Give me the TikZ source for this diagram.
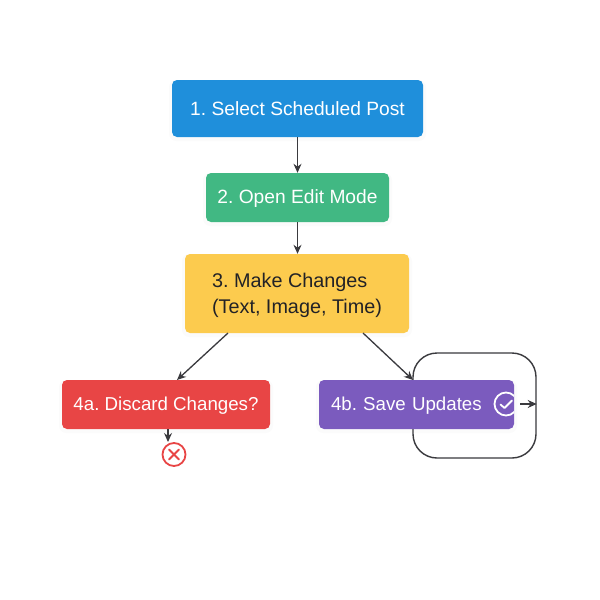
\documentclass[tikz,border=0pt]{standalone}
\usepackage{fontspec}
\setmainfont{Liberation Sans}
\frenchspacing
\usetikzlibrary{arrows.meta}
\definecolor{cblue}{HTML}{1F8FDB}
\definecolor{cgreen}{HTML}{41B883}
\definecolor{cyellow}{HTML}{FCCB4E}
\definecolor{cred}{HTML}{E84545}
\definecolor{cpurple}{HTML}{7B5BBE}
\definecolor{cline}{HTML}{3A3A3E}
\definecolor{cdark}{HTML}{222226}
\tikzset{
  x=1pt,y=-1pt,
  boxnode/.style={rounded corners=5pt,inner sep=0pt,font=\fontsize{19.2}{26}\selectfont,text=white},
  smalltext/.style={font=\fontsize{18.7}{26}\selectfont},
  conn/.style={draw=cline,line width=1.3pt,-{Stealth[length=9pt,width=8pt]}},
  halo/.style={fill=black,opacity=0.015,rounded corners=7pt}
}
\begin{document}
\begin{tikzpicture}
\useasboundingbox (0,0) rectangle (600,600);
\fill[white] (0,0) rectangle (600,600);
% soft shadows
\fill[halo] (169,80) rectangle (426,141);
\fill[halo] (203,173) rectangle (392,226);
\fill[halo] (182,254) rectangle (412,337);
\fill[halo] (59,380) rectangle (273,433);
\fill[halo] (316,380) rectangle (517,433);
% loop frame
\node[draw=cline,line width=1.4pt,rounded corners=24pt,minimum width=123pt,minimum height=105pt,inner sep=0pt] (frame) at (474.5,405.5) {};
% boxes
\node[boxnode,fill=cblue,minimum width=251pt,minimum height=57pt] (n1) at (297.5,108.5) {1. Select Scheduled Post};
\node[boxnode,fill=cgreen,minimum width=183pt,minimum height=49pt] (n2) at (297.5,197.5) {\rule{0pt}{16pt}2. Open Edit Mode};
\node[boxnode,fill=cyellow,minimum width=224pt,minimum height=79pt,text=cdark,align=left,font=\fontsize{19.8}{26}\selectfont] (n3) at (297,293.5) {\rule{0pt}{19pt}3. Make Changes\\(Text, Image, Time)};
\node[boxnode,smalltext,fill=cred,minimum width=208pt,minimum height=49pt] (n4a) at (166,404.5) {\rule{0pt}{16pt}4a. Discard Changes?};
\node[boxnode,smalltext,fill=cpurple,minimum width=195pt,minimum height=49pt,text width=171pt,align=left,inner xsep=12pt] (n4b) at (416.5,404.5) {\rule{0pt}{16pt}4b. Save Updates};
% check icon, cut off by the box edge
\begin{scope}
\clip (n4b.south west) rectangle (n4b.north east);
\node[draw=white,line width=1.8pt,circle,minimum size=23pt,inner sep=0pt] (chk) at (506,404) {};
\end{scope}
\draw[white,line width=1.8pt,line cap=round,line join=round] (500.5,404.5) -- (504.5,408) -- (512,400.5);
% cross icon
\node[draw=cred,fill=white,line width=1.8pt,circle,minimum size=23pt,inner sep=0pt] (x) at (174,454.5) {};
\draw[cred,line width=1.8pt,line cap=round] (x.center)+(-5,-5) -- +(5,5);
\draw[cred,line width=1.8pt,line cap=round] (x.center)+(-5,5) -- +(5,-5);
% connectors
\coordinate (a4a) at (168,429);
\coordinate (b4a) at (168,442);
\coordinate (s3a) at (228,333);
\coordinate (e3a) at (177,380);
\coordinate (s3b) at (363,333);
\coordinate (e3b) at (413,380);
\coordinate (lo) at (520,404);
\draw[conn] (n1.south) -- (n2.north);
\draw[conn] (n2.south) -- (n2.south|-n3.north);
\draw[conn] (s3a) -- (e3a);
\draw[conn] (s3b) -- (e3b);
\draw[conn] (a4a) -- (b4a);
\draw[conn] (lo) -- (frame.east|-lo);
\end{tikzpicture}
\end{document}
